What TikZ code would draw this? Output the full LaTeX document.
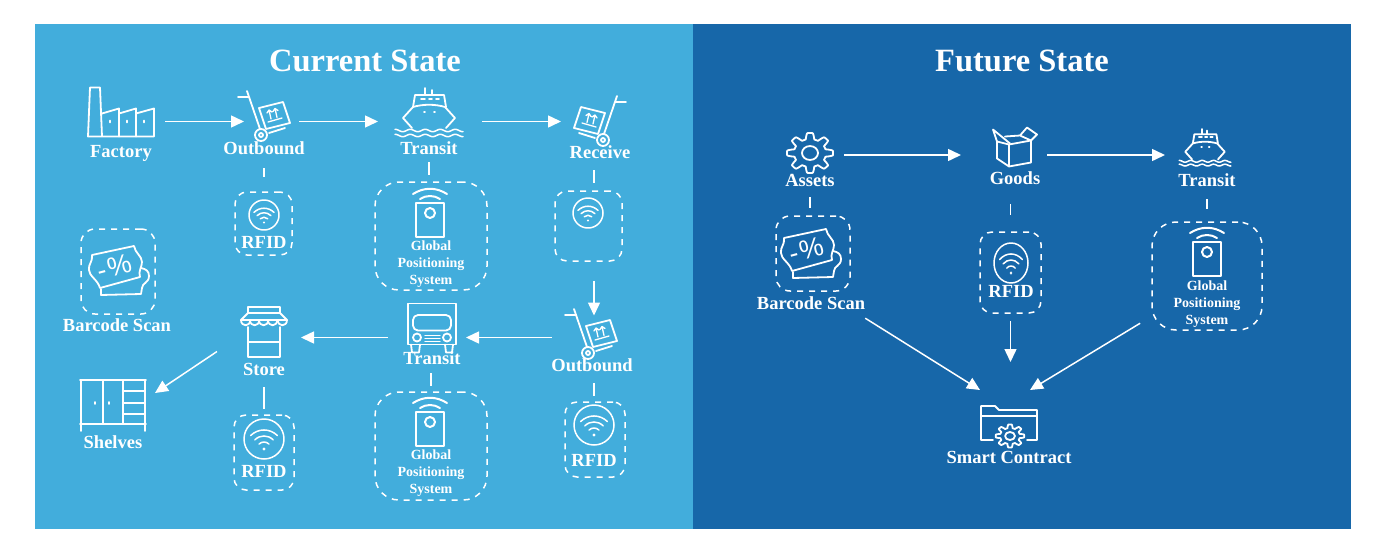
\documentclass[tikz,border=0pt]{standalone}
\usepackage{fontspec}
\setmainfont{Liberation Serif}
\newfontfamily\pctfont{Liberation Sans}
\usetikzlibrary{arrows.meta}
\definecolor{currentblue}{RGB}{66,173,220}
\definecolor{futureblue}{RGB}{23,103,169}
\tikzset{
  icon/.style={draw=white, line width=1.8pt, line join=round, line cap=round},
  factoryicon/.pic={
    \draw[icon] (-19,24) -- (-21,-25) -- (-31,-25) -- (-33,24) -- (33,24) -- (33,-4) -- (15,1) -- (15,-4) -- (-2,1) -- (-2,-4) -- (-19,1);
    \draw[icon] (-2,1) -- (-2,24) (15,1) -- (15,24);
    \foreach \wx in {-11,6,23} \draw[icon] (\wx,8) -- (\wx,10);
  },
  carticon/.pic={
    \draw[icon] (-26,-18) -- (-16,-18) (-17,-24) -- (-4,14);
    \draw[icon] (-3,20) circle (6) (-3,20) circle (2);
    \draw[icon] (5,18) -- (21,13);
    \draw[icon] (-5,-7) -- (19,-13) -- (26,8) -- (2,14) -- cycle;
    \draw[icon, line width=1.3pt] (7,4) -- (5,-5) (3,-2) -- (5,-5) -- (8,-3) (13,2.5) -- (11,-6.5) (9,-3.5) -- (11,-6.5) -- (14,-4.5) (4,7) -- (18,3);
  },
  shipicon/.pic={
    \draw[icon] (-26,5) -- (-16,-6) .. controls (-6,-9) and (6,-9) .. (16,-6) -- (26,5) -- (17,15) (-17,15) -- (-26,5);
    \draw[icon] (-16,-6) -- (-14,-18) -- (15,-18) -- (17,-6);
    \draw[icon] (-4,-25) -- (-4,-18) (3,-23) -- (3,-18);
    \draw[icon] (-8,-14) -- (-4,-14) (0,-14) -- (3,-14) (7,-14) -- (10,-14);
    \draw[icon] (-5,-1) -- (-4,-1) (5,-1) -- (6,-1);
    \foreach \wy in {17.5,22.5}
      \draw[icon, line width=1.5pt] plot[domain=-34:34,samples=45] (\x,{\wy+1.2*sin(\x*24)});
  },
  truckicon/.pic={
    \draw[icon] (-24,17) -- (-24,-24) -- (24,-24) -- (24,17) -- cycle;
    \draw[icon, rounded corners=5pt] (-19,-12.5) rectangle (19,3);
    \draw[icon] (-15,10) circle (4) (15,10) circle (4);
    \draw[icon, line width=1.3pt] (-7,8) -- (8,8) (-7,11) -- (8,11) (-7,14) -- (8,14);
    \draw[icon] (-21,17) -- (-20,25) -- (-13,25) -- (-12,17) (13,17) -- (14,25) -- (20,25) -- (21,17);
  },
  storeicon/.pic={
    \draw[icon] (-16,-25) rectangle (16,-19);
    \draw[icon] (-16,-19) -- (-23,-12) -- (23,-12) -- (16,-19);
    \foreach \sx in {-23,-14,-5,4,13.8}
      \draw[icon] (\sx,-12) .. controls (\sx,-5) and (\sx+9.2,-5) .. (\sx+9.2,-12);
    \draw[icon] (-16,-5) -- (-16,25) -- (16,25) -- (16,-5) (-16,10) -- (16,10);
  },
  shelficon/.pic={
    \draw[icon] (-33,-24) -- (33,-24) (-33,20) -- (33,20);
    \draw[icon] (-32,-24) -- (-32,27) (32,-24) -- (32,27);
    \draw[icon] (-10,-24) -- (-10,20) (10,-24) -- (10,20);
    \draw[icon] (10,-12.7) -- (32,-12.7) (10,-1) -- (32,-1) (10,10) -- (32,10);
    \draw[icon] (-18,-2) -- (-18,0) (-4,-2) -- (-4,0);
  },
  ticketicon/.pic={
    \draw[icon] (-26,-16) -- (16,-25) .. controls (17,-18) and (24,-15) .. (24,-9) .. controls (24,-4) and (20,0) .. (22,6) -- (-18,17) .. controls (-20,9) and (-29,5) .. (-29,-1) .. controls (-30,-7) and (-25,-9) .. (-26,-16);
    \draw[icon] (23,-3) .. controls (28,-2) and (31,0) .. (31,5) .. controls (31,12) and (24,12) .. (24,17) -- (23,23) -- (-17,24) -- (-17,18);
    \node[text=white, rotate=15, inner sep=0pt, font=\pctfont\fontsize{27}{27}\selectfont] (-pct) at (-4,-4) {-\kern2pt\%};
  },
  wifiicon/.pic={
    \draw[icon, line width=1.5pt] (0,0) circle (20);
    \foreach \wr in {7,13,19}
      \draw[icon, line width=1.5pt] ({-.707*\wr},{10-.707*\wr}) .. controls ({-.3*\wr},{10-1.1*\wr}) and ({.3*\wr},{10-1.1*\wr}) .. ({.707*\wr},{10-.707*\wr});
    \fill[white] (0,10) circle (1.6);
  },
  gpsicon/.pic={
    \draw[icon, line width=2.2pt] (-14,-17) rectangle (14,17);
    \draw[icon, line width=2pt] (0,-7) circle (5);
    \draw[icon, line width=2pt] (-17,-26) .. controls (-6,-33) and (6,-33) .. (17,-26) (-10,-21) .. controls (-4,-25) and (4,-25) .. (10,-21);
  },
  gearicon/.pic={
    \draw[icon] plot[domain=0:360,samples=241] (\x:{19.5+3.5*max(-1,min(1,1.8*cos(8*\x)))}) -- cycle;
    \draw[icon] (0,0) circle (8);
  },
  goodsicon/.pic={
    \draw[icon] (-18,-6) -- (-18,11) -- (-6,19) -- (16,15) -- (16,-7) -- (-6,-3) -- cycle (-6,-3) -- (-6,19);
    \draw[icon] (-18,-6) -- (-22,-18) -- (-5,-4) (5,-12) -- (12,-20) -- (22,-13) -- (16,-7) -- (5,-12) (-10,-11) -- (5,-12);
  },
  foldericon/.pic={
    \draw[icon] (-16,17) -- (-28,17) -- (-28,-17) -- (-14,-17) -- (-10,-13) -- (28,-13) -- (28,17) -- (18,17) (-28,-7) -- (28,-7);
    \pic[xscale=.62, yscale=.5] at (1,13) {gearicon};
  }
}
\begin{document}
\begin{tikzpicture}[x=1pt, y=-1pt,
  panel/.style={anchor=north west, inner sep=0pt, minimum width=658, minimum height=505},
  hub/.style={inner sep=0pt, outer sep=0pt, minimum height=28},
  dbox/.style={draw=white, dashed, dash pattern=on 6pt off 6pt, line width=1.5pt, inner sep=0pt, rounded corners=12pt},
  title/.style={text=white, inner sep=0pt, font=\bfseries\fontsize{32.5}{32.5}\selectfont},
  lbl/.style={text=white, inner sep=0pt, text height=12pt, text depth=0pt, font=\bfseries\fontsize{18.5}{18.5}\selectfont},
  gpstxt/.style={text=white, inner sep=0pt, align=center, font=\bfseries\fontsize{14}{17}\selectfont},
  arr/.style={-{Triangle[length=13pt,width=12pt]}, white, line width=1.5pt},
  stub/.style 2 args={white, line width=1.5pt, shorten <=#1pt, shorten >=#2pt}
]
  \useasboundingbox (0,0) rectangle (1390,549);
  \node[panel, fill=currentblue] (current) at (35,24) {};
  \node[panel, fill=futureblue] (future) at (693,24) {};
  \node[title] (currenttitle) at (365,61) {Current State};
  \node[title] (futuretitle) at (1022,61) {Future State};

  % current state
  \node[hub, minimum width=88] (factory) at (121,121.5) {};
  \node[hub, minimum width=55] (outa) at (271.5,121.5) {};
  \node[hub, minimum width=104] (shipa) at (430,121.5) {};
  \node[hub, minimum width=66] (receive) at (594,121.5) {};
  \node[hub, minimum width=84, minimum height=44] (outb) at (594,337.5) {};
  \node[hub, minimum width=78] (truck) at (427,337.5) {};
  \node[hub, minimum width=84] (store) at (259,337.5) {};
  \node[hub, minimum width=84, minimum height=22] (shelves) at (113,404) {};

  \pic at (121,112.5) {factoryicon};
  \pic at (264,115) {carticon};
  \pic at (429,113) {shipicon};
  \pic[xscale=-1] at (600,120) {carticon};
  \pic at (591,333) {carticon};
  \pic at (432,327.5) {truckicon};
  \pic at (264,332) {storeicon};
  \pic at (113,404) {shelficon};

  \node[lbl] (factorylbl) at (121,151) {Factory};
  \node[lbl] (outalbl) at (264,148) {Outbound};
  \node[lbl] (shipalbl) at (429,148) {Transit};
  \node[lbl] (receivelbl) at (600,152) {Receive};
  \node[lbl] (outblbl) at (592,365) {Outbound};
  \node[lbl] (trucklbl) at (432,358) {Transit};
  \node[lbl] (storelbl) at (264,369) {Store};
  \node[lbl] (shelveslbl) at (113,442) {Shelves};

  \node[dbox, minimum width=57, minimum height=63] (rfida) at (263.5,223.5) {};
  \node[dbox, minimum width=112, minimum height=108, rounded corners=24pt] (gpsa) at (431,236) {};
  \node[dbox, minimum width=67, minimum height=70] (rfidb) at (588.5,226) {};
  \node[dbox, minimum width=60, minimum height=75] (rfidc) at (595,439.5) {};
  \node[dbox, minimum width=112, minimum height=108, rounded corners=24pt] (gpsb) at (431,446) {};
  \node[dbox, minimum width=60, minimum height=75] (rfidd) at (264,452.5) {};
  \node[dbox, minimum width=74, minimum height=85, rounded corners=14pt] (scana) at (118,271.5) {};

  \pic[scale=.75] at (264,215) {wifiicon};
  \pic at (430,220) {gpsicon};
  \pic[scale=.75] at (588,213) {wifiicon};
  \pic at (594,425) {wifiicon};
  \pic at (430,429) {gpsicon};
  \pic at (264,439) {wifiicon};
  \pic (scanicona) at (118,271) {ticketicon};

  \node[lbl] (rfidalbl) at (264,242) {RFID};
  \node[gpstxt] (gpsalbl) at (431,264) {Global\\Positioning\\System};
  \node[lbl] (rfidclbl) at (594,460) {RFID};
  \node[gpstxt] (gpsblbl) at (431,473) {Global\\Positioning\\System};
  \node[lbl] (rfiddlbl) at (264,471) {RFID};
  \node[lbl] (scanalbl) at (117,325) {Barcode Scan};

  \draw[arr] (factory.east) -- (outa.west);
  \draw[arr] (outa.east) -- (shipa.west);
  \draw[arr] (shipa.east) -- (receive.west);
  \draw[arr, shorten <=19pt] (receive.south |- rfidb.south) -- (outb.north);
  \draw[arr] (outb.west) -- (truck.east);
  \draw[arr] (truck.west) -- (store.east);
  \draw[arr] (store.south west) -- (shelves.north east);
  \draw[stub={14}{14}] (outalbl.south) -- (outalbl.south |- rfida.north);
  \draw[stub={8}{6}] (shipalbl.south) -- (shipalbl.south |- gpsa.north);
  \draw[stub={12}{7}] (receive.south |- receivelbl.south) -- (receive.south |- rfidb.north);
  \draw[stub={12}{5}] (outb.south |- outblbl.south) -- (outb.south |- rfidc.north);
  \draw[stub={9}{5}] (gpsb.north |- trucklbl.south) -- (gpsb.north);
  \draw[stub={12}{5}] (storelbl.south) -- (rfidd.north);

  % future state
  \node[hub, minimum width=68] (assets) at (810,155) {};
  \node[hub, minimum width=86] (goods) at (1004,155) {};
  \node[hub, minimum width=84] (shipb) at (1207,155) {};
  \node[hub, minimum width=50, minimum height=40] (contract) at (1005,410) {};

  \pic[yscale=.87] at (810,153) {gearicon};
  \pic at (1015,147.5) {goodsicon};
  \pic[scale=.76] at (1205,148) {shipicon};
  \pic at (1009,423) {foldericon};

  \node[lbl] (assetslbl) at (810,180) {Assets};
  \node[lbl] (goodslbl) at (1015,178) {Goods};
  \node[lbl] (shipblbl) at (1207,180) {Transit};
  \node[lbl] (contractlbl) at (1009,457) {Smart Contract};

  \node[dbox, minimum width=74, minimum height=75, rounded corners=14pt] (scanb) at (813,253.5) {};
  \node[dbox, minimum width=61, minimum height=81] (rfide) at (1010.5,272.5) {};
  \node[dbox, minimum width=110, minimum height=108, rounded corners=24pt] (gpsc) at (1207,276) {};

  \pic (scaniconb) at (810,254) {ticketicon};
  \pic[xscale=.85] at (1011,263) {wifiicon};
  \pic at (1207,259) {gpsicon};

  \node[lbl, minimum width=90, minimum height=30] (scanblbl) at (811,303) {Barcode Scan};
  \node[lbl] (rfidelbl) at (1011,291) {RFID};
  \node[gpstxt] (gpsclbl) at (1207,304) {Global\\Positioning\\System};

  \draw[arr] (assets.east) -- (goods.west);
  \draw[arr] (goods.east) -- (shipb.west);
  \draw[arr] (scanblbl.south east) -- (contract.north west);
  \draw[arr, shorten <=7pt, shorten >=28pt] (rfide.south) -- (rfide.south |- contract.north);
  \draw[arr, shorten <=13pt] (gpsc.216) -- (contract.north east);
  \draw[stub={11}{7}] (assetslbl.south) -- (assetslbl.south |- scanb.north);
  \draw[stub={20}{16}] (rfide.north |- goodslbl.south) -- (rfide.north);
  \draw[stub={13}{12}] (gpsc.north |- shipblbl.south) -- (gpsc.north);
\end{tikzpicture}
\end{document}
